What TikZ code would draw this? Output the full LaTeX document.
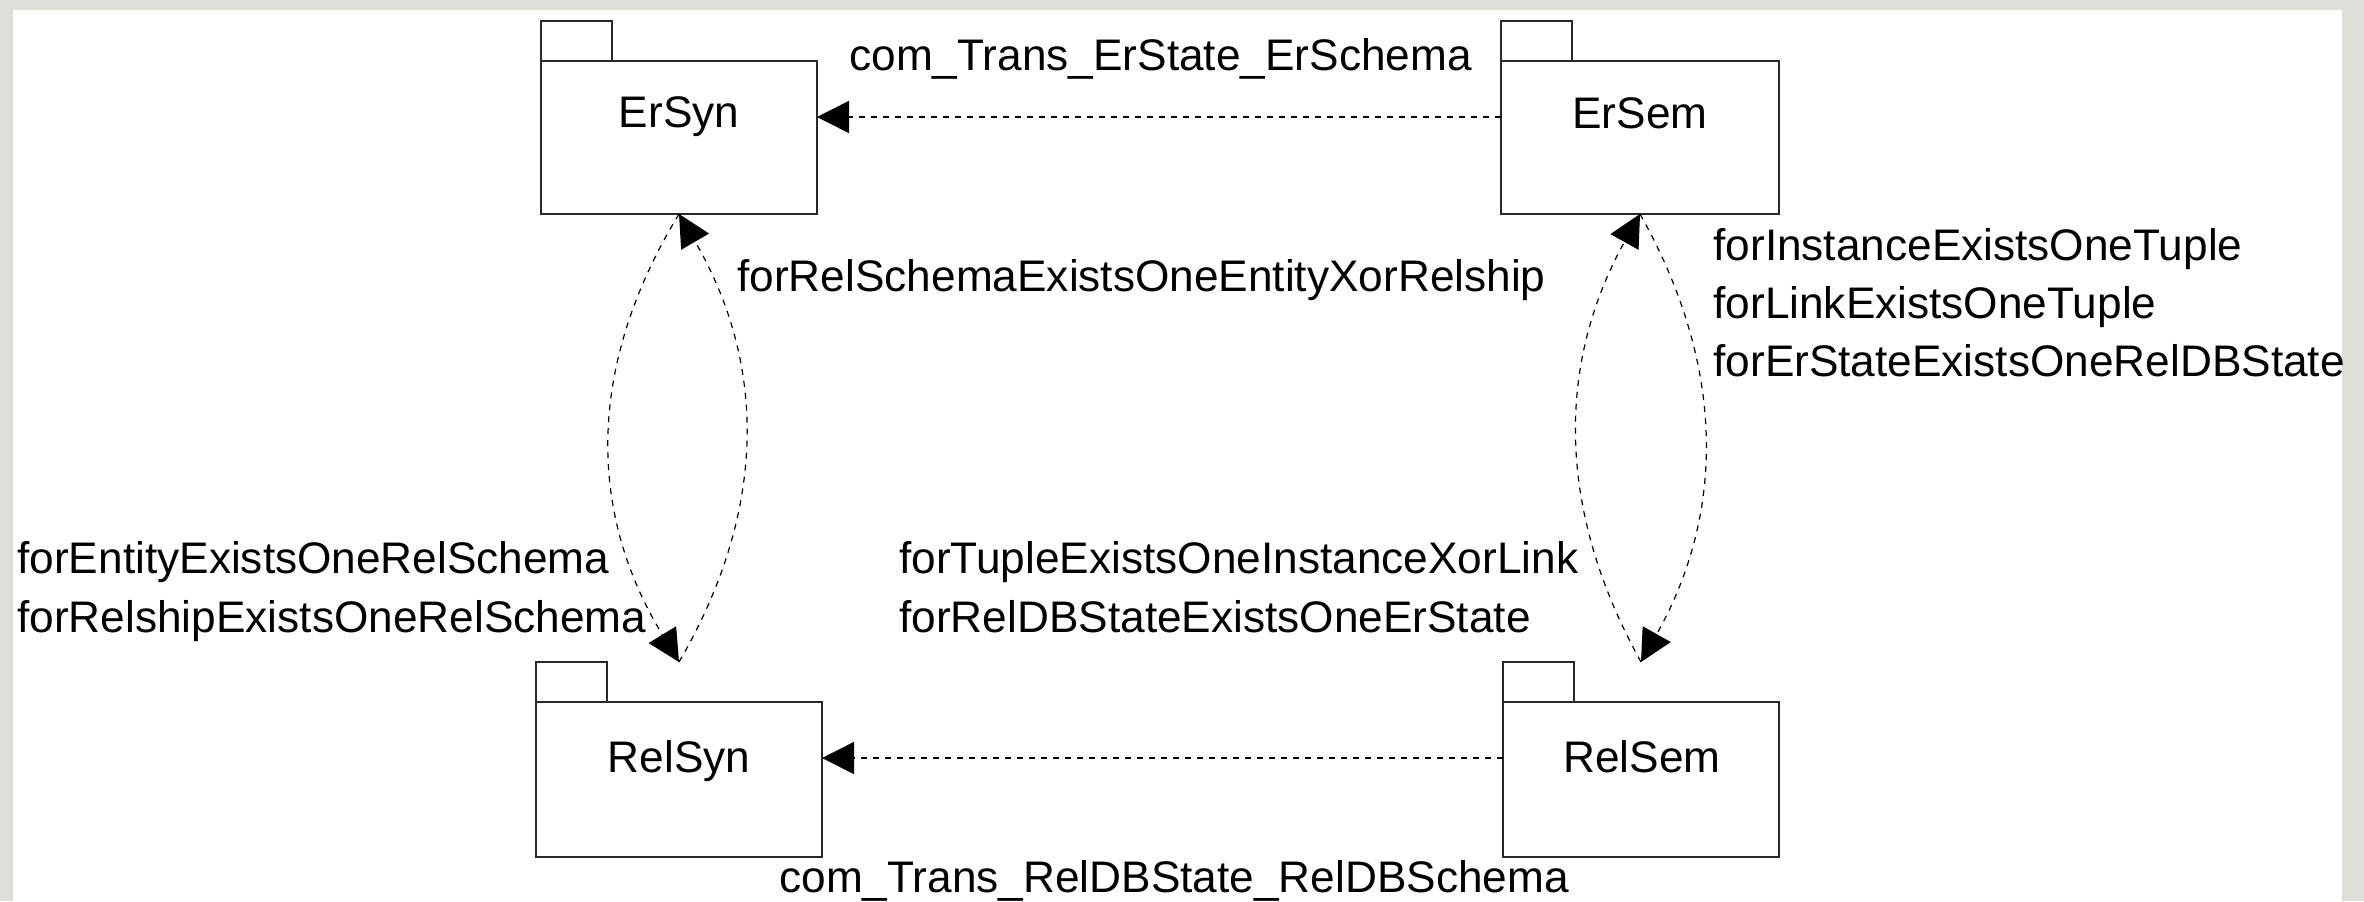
\documentclass[tikz,border=0pt]{standalone}
\usepackage{fontspec}
\setmainfont{Liberation Sans}
\usetikzlibrary{arrows.meta}

\definecolor{pagebg}{RGB}{221,222,216}
\definecolor{inkline}{RGB}{40,40,40}

\tikzset{
  pkgbody/.style={rectangle, draw=inkline, line width=1pt, fill=white,
    inner sep=0pt, outer sep=0pt},
  pkgtab/.style={rectangle, draw=inkline, line width=1pt, fill=white,
    inner sep=0pt, outer sep=0pt, minimum width=35.5pt, minimum height=20pt,
    anchor=south west},
  pkgtitle/.style={inner sep=0pt, text height=15.8pt, text depth=0pt},
  rulelabel/.style={inner sep=0pt, text height=15.8pt, text depth=0pt, anchor=west},
  dep/.style={draw=black, line width=0.8pt, dash pattern=on 3pt off 3pt,
    -{Triangle[length=16pt,width=16pt]}},
  curvedep/.style={dep, line width=0.6pt},
}

\begin{document}
\begin{tikzpicture}[x=0.5pt, y=-0.5pt, font=\fontsize{22.1pt}{26pt}\selectfont]
\useasboundingbox (0,0) rectangle (2364,901);
\fill[pagebg] (0,0) rectangle (2364,901);
\fill[white] (13,10) rectangle (2342,901);

% packages: body plus tab
\node[pkgbody, minimum width=138pt, minimum height=76.5pt] (ersyn) at (679,137.5) {};
\node[pkgtab] (ersyn-tab) at (ersyn.north west) {};
\node[pkgbody, minimum width=139pt, minimum height=76.5pt] (ersem) at (1640,137.5) {};
\node[pkgtab] (ersem-tab) at (ersem.north west) {};
\node[pkgbody, minimum width=143pt, minimum height=77.5pt] (relsyn) at (679,779.5) {};
\node[pkgtab] (relsyn-tab) at (relsyn.north west) {};
\node[pkgbody, minimum width=138pt, minimum height=77.5pt] (relsem) at (1641,779.5) {};
\node[pkgtab] (relsem-tab) at (relsem.north west) {};

% package names
\node[pkgtitle] (ersyn-name) at (679,112) {ErSyn};
\node[pkgtitle] (ersem-name) at (1640,112.5) {ErSem};
\node[pkgtitle] (relsyn-name) at (679,757) {RelSyn};
\node[pkgtitle] (relsem-name) at (1642,756.5) {RelSem};

% translation dependencies
\draw[dep] ([yshift=10.25pt]ersem.west) -- ([yshift=10.25pt]ersyn.east);
\draw[dep] ([yshift=10.75pt]relsem.west) -- ([yshift=10.75pt]relsyn.east);

% syntax pair
\draw[curvedep] (ersyn.south) .. controls +(-92,151) and +(-92,-151) .. (relsyn.north |- relsyn-tab.north);
\draw[curvedep] (relsyn.north |- relsyn-tab.north) .. controls +(88,-151) and +(88,151) .. (ersyn.south);

% semantics pair
\draw[curvedep] (relsem.north |- relsem-tab.north) .. controls +(-84,-151) and +(-84,151) .. (ersem.south);
\draw[curvedep] (ersem.south) .. controls +(85,151) and +(85,-151) .. (relsem.north |- relsem-tab.north);

% dependency labels
\node[rulelabel] (lbl-ertrans) at (849,54.5) {com\_Trans\_ErState\_ErSchema};
\node[rulelabel] (lbl-relschema) at (737,275.5) {forRelSchemaExistsOneEntityXorRelship};
\node[rulelabel] (lbl-instance) at (1713,244.5) {forInstanceExistsOneTuple};
\node[rulelabel] (lbl-link) at (1713,302.5) {forLinkExistsOneTuple};
\node[rulelabel] (lbl-erstate) at (1713,361) {forErStateExistsOneRelDBState};
\node[rulelabel] (lbl-entity) at (17,557.5) {forEntityExistsOneRelSchema};
\node[rulelabel] (lbl-relship) at (17,616.5) {forRelshipExistsOneRelSchema};
\node[rulelabel] (lbl-tuple) at (899,557.5) {forTupleExistsOneInstanceXorLink};
\node[rulelabel] (lbl-reldb) at (899,616.5) {forRelDBStateExistsOneErState};
\node[rulelabel] (lbl-reltrans) at (779,876.5) {com\_Trans\_RelDBState\_RelDBSchema};
\end{tikzpicture}
\end{document}
